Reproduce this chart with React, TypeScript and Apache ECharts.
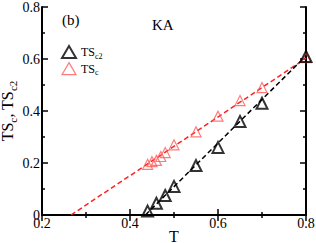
import React, { useEffect, useRef } from "react";
import * as echarts from "echarts";

const tsc2T = [0.44, 0.46, 0.48, 0.5, 0.55, 0.6, 0.65, 0.7, 0.8];
const tsc2V = [0.015, 0.045, 0.075, 0.11, 0.19, 0.26, 0.36, 0.43, 0.61];
const tscT = [0.44, 0.45, 0.46, 0.47, 0.48, 0.5, 0.55, 0.6, 0.65, 0.7, 0.8];
const tscV = [0.195, 0.205, 0.21, 0.225, 0.24, 0.27, 0.32, 0.38, 0.44, 0.49, 0.605];
const fitTsc2T = [0.435, 0.8];
const fitTsc2V = [0.0, 0.612];
const fitTscT = [0.266, 0.8];
const fitTscV = [0.0, 0.603];
const xTicks = [0.2, 0.4, 0.6, 0.8];
const yTicks = [0, 0.2, 0.4, 0.6, 0.8];

const FONT = "'Liberation Serif', 'Times New Roman', serif";
const RED = "#ff5a5a";

const zip = (a: number[], b: number[]) => a.map((v, i) => [v, b[i]]);

export default function App() {
  const ref = useRef<HTMLDivElement>(null);
  useEffect(() => {
    if (!ref.current) return;
    const chart = echarts.init(ref.current, null, { renderer: "svg" });
    const fmt = (v: number) => (v === 0 ? "0" : String(Number(v.toFixed(1))));
    const axisCommon = {
      axisLine: { show: true, lineStyle: { color: "#000", width: 2 } },
      axisTick: { show: true, inside: true, length: 6, lineStyle: { color: "#000", width: 1.5 } },
      minorTick: { show: true, splitNumber: 2, length: 3, lineStyle: { color: "#000", width: 1.5 } },
      splitLine: { show: false },
    };
    chart.setOption({
      animation: false,
      textStyle: { fontFamily: FONT },
      grid: { left: 42, right: 10, top: 7, bottom: 28, outerBoundsMode: "none", containLabel: false },
      legend: {
        left: 56,
        top: 40,
        orient: "vertical",
        itemWidth: 14,
        itemHeight: 12,
        itemGap: 2,
        data: [
          { name: "TSc2", icon: "triangle", itemStyle: { color: "#fff", borderColor: "#000", borderWidth: 2 } },
          { name: "TSc", icon: "triangle", itemStyle: { color: "#fff", borderColor: RED, borderWidth: 1.2 } },
        ],
        formatter: (n: string) => (n === "TSc2" ? "{a|TS}{s|c2}" : "{a|TS}{s|c}"),
        textStyle: {
          fontFamily: FONT,
          rich: {
            a: { fontFamily: FONT, fontSize: 12, color: "#000" },
            s: { fontFamily: FONT, fontSize: 8, color: "#000", padding: [8, 0, 0, 0] },
          },
        },
      },
      graphic: [
        { type: "text", left: 62, top: 12, style: { text: "(b)", font: `15px ${FONT}`, fill: "#000" } },
        { type: "text", left: 152, top: 17, style: { text: "KA", font: `15px ${FONT}`, fill: "#000" } },
      ],
      xAxis: [
        {
          type: "value",
          min: 0.2,
          max: 0.8,
          interval: 0.2,
          name: "T",
          nameLocation: "middle",
          nameGap: 13,
          nameMoveOverlap: false,
          nameTextStyle: { fontFamily: FONT, fontSize: 16, color: "#000" },
          axisLabel: { fontFamily: FONT, fontSize: 14, color: "#000", margin: 1, formatter: fmt },
          ...axisCommon,
        },
        {
          type: "value",
          position: "top",
          min: 0.2,
          max: 0.8,
          interval: 0.2,
          axisLabel: { show: false },
          ...axisCommon,
        },
      ],
      yAxis: [
        {
          type: "value",
          min: 0,
          max: 0.8,
          interval: 0.2,
          name: "{a|TS}{s|c}{a|, TS}{s|c2}",
          nameLocation: "middle",
          nameGap: 24,
          nameMoveOverlap: false,
          nameRotate: 90,
          nameTextStyle: {
            fontFamily: FONT,
            color: "#000",
            rich: {
              a: { fontFamily: FONT, fontSize: 16, color: "#000" },
              s: { fontFamily: FONT, fontSize: 11, color: "#000", padding: [10, 0, 0, 0] },
            },
          },
          axisLabel: { fontFamily: FONT, fontSize: 14, color: "#000", margin: 2, formatter: fmt },
          ...axisCommon,
        },
        {
          type: "value",
          position: "right",
          min: 0,
          max: 0.8,
          interval: 0.2,
          axisLabel: { show: false },
          ...axisCommon,
        },
      ],
      series: [
        {
          name: "fitTsc",
          type: "line",
          data: zip(fitTscT, fitTscV),
          symbol: "none",
          lineStyle: { color: "#ff2020", width: 1.5, type: [5, 3] },
          z: 1,
        },
        {
          name: "fitTsc2",
          type: "line",
          data: zip(fitTsc2T, fitTsc2V),
          symbol: "none",
          lineStyle: { color: "#000", width: 1.5, type: [5, 3] },
          z: 1,
        },
        {
          name: "TSc",
          type: "scatter",
          data: zip(tscT, tscV),
          symbol: "triangle",
          symbolSize: 10,
          itemStyle: { color: "rgba(255,255,255,0)", borderColor: RED, borderWidth: 1.2 },
          z: 2,
        },
        {
          name: "TSc2",
          type: "scatter",
          data: zip(tsc2T, tsc2V),
          symbol: "triangle",
          symbolSize: 11,
          itemStyle: { color: "rgba(255,255,255,0)", borderColor: "#000", borderWidth: 2 },
          z: 3,
        },
      ],
    });
    return () => chart.dispose();
  }, []);
  return <div ref={ref} style={{ width: 316, height: 243, position: "absolute", left: 0, top: 0 }} />;
}
